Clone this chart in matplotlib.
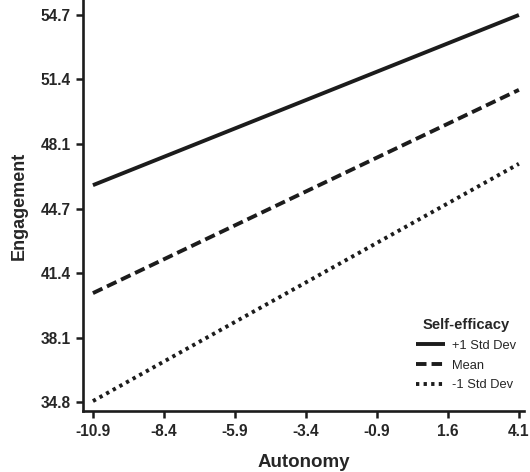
import matplotlib.pyplot as plt
import numpy as np

plt.rcParams['font.family'] = ['Liberation Sans', 'DejaVu Sans']

# Valores
autonomy = [-10.9, 4.1]
plus_sd = [45.95, 54.7]
mean = [40.4, 50.85]
minus_sd = [34.85, 47.05]

x_ticks = [-10.9, -8.4, -5.9, -3.4, -0.9, 1.6, 4.1]
y_tick_labels = ['34.8', '38.1', '41.4', '44.7', '48.1', '51.4', '54.7']
y_min, y_max = 34.8, 54.7

cor = '#1c1c1c'
cor_texto = '#262626'

fig = plt.figure(figsize=(5.3, 4.72), dpi=100)
ax = fig.add_axes([83/530, 61/472, 441/530, 411/472])

ax.plot(autonomy, plus_sd, color=cor, lw=2.8, solid_capstyle='butt', label='+1 Std Dev')
ax.plot(autonomy, mean, color=cor, lw=2.8, dashes=(2.7, 1.3), label='Mean')
ax.plot(autonomy, minus_sd, color=cor, lw=2.8, dashes=(0.85, 1.1), label='-1 Std Dev')

ax.set_xlim(-11.25, 4.28)
ax.set_ylim(34.34, 55.47)

ax.set_xticks(x_ticks)
ax.set_xticklabels(['{:.1f}'.format(v) for v in x_ticks])
ax.set_yticks(np.linspace(y_min, y_max, len(y_tick_labels)))
ax.set_yticklabels(y_tick_labels)

for lab in ax.get_xticklabels() + ax.get_yticklabels():
    lab.set_fontweight('bold')
    lab.set_fontsize(11.2)
    lab.set_color(cor_texto)

ax.tick_params(width=1.8, length=5, color=cor, pad=4)
for s in ['top', 'right']:
    ax.spines[s].set_visible(False)
for s in ['left', 'bottom']:
    ax.spines[s].set_linewidth(1.9)
    ax.spines[s].set_color(cor)

ax.set_xlabel('Autonomy', fontsize=13.5, fontweight='bold', color=cor_texto, labelpad=11)
ax.set_ylabel('Engagement', fontsize=13, fontweight='bold', color=cor_texto, labelpad=9)

leg = ax.legend(title='Self-efficacy', frameon=False, fontsize=9.3,
                loc='upper left', bbox_to_anchor=(416/530, 1 - 318/472),
                bbox_transform=fig.transFigure, borderpad=0, borderaxespad=0,
                handlelength=2.25, handletextpad=0.5, labelspacing=0.6)
leg.get_title().set_fontweight('bold')
leg.get_title().set_fontsize(10.6)
leg.get_title().set_color(cor_texto)
for t in leg.get_texts():
    t.set_color(cor_texto)

fig.savefig('out.png', dpi=100)
